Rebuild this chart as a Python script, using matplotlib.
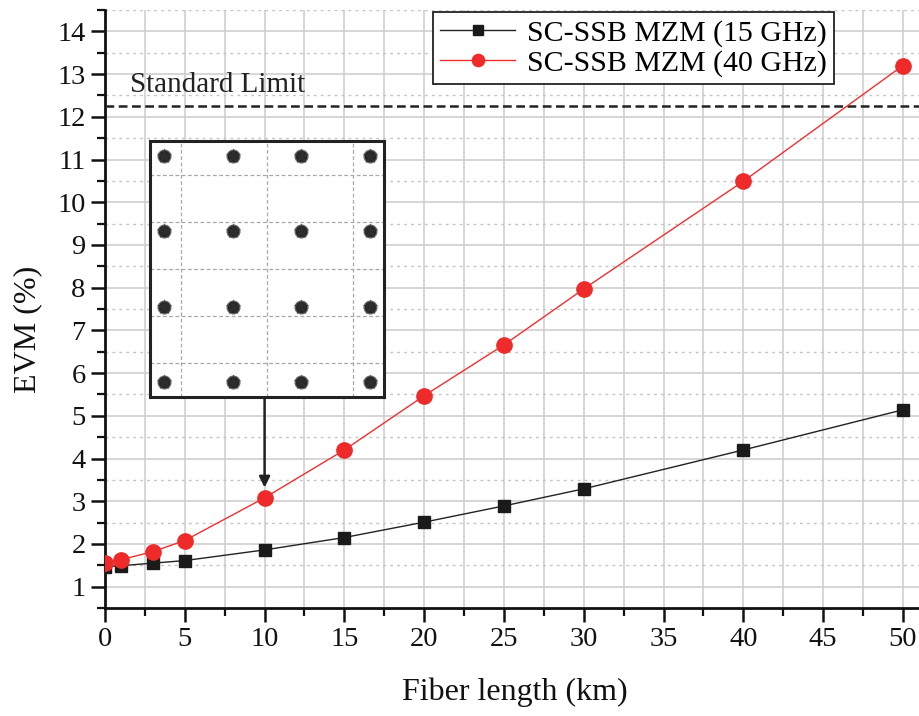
import numpy as np
import matplotlib
matplotlib.use("Agg")
import matplotlib.pyplot as plt
from matplotlib.ticker import MultipleLocator

# ==== Data ====
fiber_km = [0, 1, 3, 5, 10, 15, 20, 25, 30, 40, 50]
evm_15ghz = [1.47, 1.49, 1.55, 1.61, 1.86, 2.15, 2.51, 2.89, 3.29, 4.20, 5.14]
evm_40ghz = [1.56, 1.63, 1.82, 2.08, 3.08, 4.20, 5.47, 6.66, 7.97, 10.49, 13.2]
label_15 = "SC-SSB MZM (15 GHz)"
label_40 = "SC-SSB MZM (40 GHz)"
std_limit = 12.25
xlabel = "Fiber length (km)"
ylabel = "EVM (%)"

# 16-QAM constellation shown in the inset (ideal symbol levels)
qam_levels = [-3, -1, 1, 3]

plt.rcParams['font.family'] = ['Liberation Serif', 'DejaVu Serif']

W, H = 920, 716
fig = plt.figure(figsize=(W / 100, H / 100), dpi=100)

# ==== Main axes ====
ax = fig.add_axes([105 / W, (H - 608) / H, 815 / W, 598 / H])
ax.set_xlim(0, 51.07)
ax.set_ylim(0.5, 14.5)

ax.plot(fiber_km, evm_15ghz, color='#222222', lw=1.0, marker='s',
        markersize=9.3, markerfacecolor='#1a1a1a', markeredgecolor='#1a1a1a',
        label=label_15, zorder=4)
ax.plot(fiber_km, evm_40ghz, color='#f03030', lw=1.0, marker='o',
        markersize=11, markerfacecolor='#ee2a2a', markeredgecolor='#ee2a2a',
        label=label_40, zorder=5)

ax.axhline(std_limit, color='#222222', lw=1.8, ls=(0, (3.5, 1.8)), zorder=3)
ax.text(1.55, std_limit + 0.2, "Standard Limit", fontsize=21, color='#222222',
        ha='left', va='bottom')

# ticks & grid
ax.xaxis.set_major_locator(MultipleLocator(5))
ax.xaxis.set_minor_locator(MultipleLocator(2.5))
ax.yaxis.set_major_locator(MultipleLocator(1))
ax.yaxis.set_minor_locator(MultipleLocator(0.5))
ax.set_yticks(np.arange(1, 15, 1))
ax.grid(which='major', color='#cccccc', lw=1.1)
ax.grid(which='minor', axis='x', color='#cccccc', lw=1.1)
ax.grid(which='minor', axis='y', color='#c4c4c4', lw=1.0, ls=(0, (2, 3)))
ax.set_axisbelow(True)

for side in ['top', 'right']:
    ax.spines[side].set_visible(False)
for side in ['left', 'bottom']:
    ax.spines[side].set_linewidth(2.0)
    ax.spines[side].set_color('#111111')

ax.tick_params(which='major', direction='out', length=10, width=1.8,
               labelsize=20.5, colors='#111111', pad=4)
ax.tick_params(which='minor', direction='out', length=6, width=1.6,
               colors='#111111')

fig.text(28 / W, 1 - 329 / H, ylabel, rotation=90, fontsize=23,
         ha='center', va='center', color='#111111')
fig.text(515 / W, 1 - 692 / H, xlabel, fontsize=23,
         ha='center', va='center', color='#111111')

leg = ax.legend(loc='upper left', bbox_to_anchor=(433 / W, 1 - 12 / H),
                bbox_transform=fig.transFigure, fontsize=21.5, frameon=True,
                fancybox=False, edgecolor='#222222', framealpha=1,
                borderpad=0.25, handlelength=2.5, handletextpad=0.4,
                labelspacing=0.1, borderaxespad=0, markerscale=0.8)
leg.get_frame().set_linewidth(1.3)

# arrow from inset to the 10 km point
ax.annotate("", xy=(10, 3.32), xytext=(10, 5.45),
            arrowprops=dict(arrowstyle='-|>', color='#222222', lw=1.8,
                            mutation_scale=16, shrinkA=0, shrinkB=0))

# ==== Inset constellation ====
ins = fig.add_axes([150 / W, (H - 397) / H, 234 / W, 256 / H])
ins.set_xlim(-3.4, 3.4)
ins.set_ylim(-3.4, 3.4)
ins.set_xticks([-2.5, 0, 2.5])
ins.set_yticks([-2.5, -1.25, 0, 1.25, 2.5])
ins.grid(True, color='#a8a8a8', lw=0.9, ls=(0, (3, 2)))
ins.tick_params(length=0, labelbottom=False, labelleft=False)
for s in ins.spines.values():
    s.set_linewidth(2.2)
    s.set_color('#222222')

qi, qq = np.meshgrid(qam_levels, qam_levels)
ins.scatter(qi.ravel(), qq.ravel(), s=85, color='#262626',
            edgecolors='#666666', linewidths=0.9, zorder=3)
ins.scatter(qi.ravel(), qq.ravel(), s=140, marker='*', color='#303030',
            linewidths=0, zorder=3, alpha=0.75)

fig.savefig("out.png", dpi=100)
